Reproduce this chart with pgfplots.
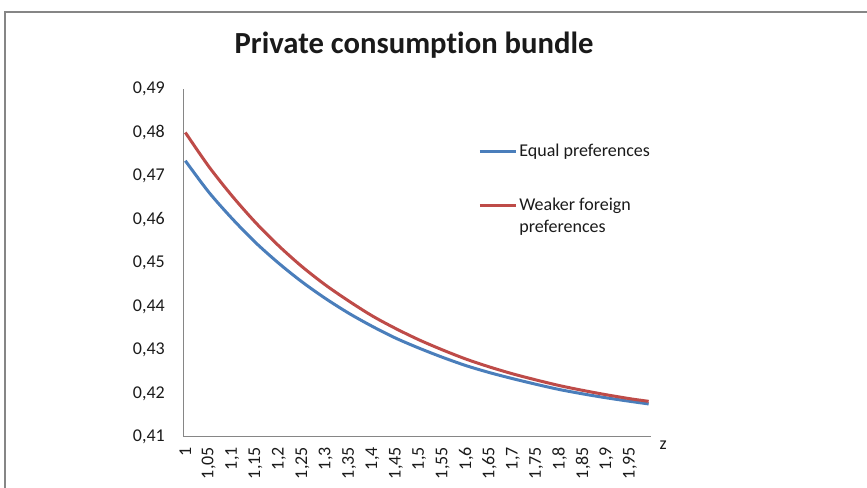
\documentclass[border=0pt]{standalone}
\usepackage{fontspec}
\setmainfont{Carlito}[Ligatures=NoCommon]
\usepackage{pgfplots}
\usepackage{pgfplotstable}
\pgfplotsset{compat=1.18}
\definecolor{xlblue}{HTML}{4A7EBB}
\definecolor{xlred}{HTML}{BE4B48}
\definecolor{xlgray}{HTML}{868686}
\definecolor{xltext}{HTML}{1A1A1A}

% z, equal preferences, weaker foreign preferences
\pgfplotstableread{
z    equal  weaker
1.00 0.4735 0.4800
1.05 0.4663 0.4722
1.10 0.4602 0.4654
1.15 0.4547 0.4593
1.20 0.4499 0.4539
1.25 0.4456 0.4491
1.30 0.4418 0.4449
1.35 0.4384 0.4412
1.40 0.4354 0.4378
1.45 0.4327 0.4349
1.50 0.4304 0.4323
1.55 0.4283 0.4300
1.60 0.4264 0.4279
1.65 0.4248 0.4261
1.70 0.4234 0.4245
1.75 0.4221 0.4231
1.80 0.4209 0.4218
1.85 0.4199 0.4207
1.90 0.4190 0.4197
1.95 0.4182 0.4188
1.99 0.4176 0.4182
}\bundle

\begin{document}
\begin{tikzpicture}[x=0.75pt,y=0.75pt]
\useasboundingbox (0,0) rectangle (867,488);
\draw[xlgray, line width=1.2pt] (5,-2) -- (5,476) -- (870,476);
\node[font=\fontsize{23}{27}\selectfont\bfseries, text=xltext] at (414,443) {Private consumption bundle};
\begin{axis}[
  at={(137.25pt,38.25pt)}, anchor=south west,
  scale only axis, width=351pt, height=261pt,
  xmin=0.995, xmax=1.995, ymin=0.41, ymax=0.49,
  axis x line=bottom, axis y line=left,
  axis line style={xlgray, line width=0.75pt, -},
  major tick length=0pt,
  font=\fontsize{13.5}{16.5}\selectfont,
  xtick={1,1.05,1.1,1.15,1.2,1.25,1.3,1.35,1.4,1.45,1.5,1.55,1.6,1.65,1.7,1.75,1.8,1.85,1.9,1.95},
  xticklabels={1,{1,05},{1,1},{1,15},{1,2},{1,25},{1,3},{1,35},{1,4},{1,45},{1,5},{1,55},{1,6},{1,65},{1,7},{1,75},{1,8},{1,85},{1,9},{1,95}},
  xticklabel style={yshift=-7.5pt, rotate=90, anchor=east, inner sep=0pt, text=xltext},
  ytick={0.41,0.42,0.43,0.44,0.45,0.46,0.47,0.48,0.49},
  yticklabels={{0,41},{0,42},{0,43},{0,44},{0,45},{0,46},{0,47},{0,48},{0,49}},
  yticklabel style={anchor=east, inner sep=0pt, xshift=-13.5pt, text=xltext},
  legend cell align=left,
  legend style={at={(0.622,0.85)}, anchor=north west, draw=none, fill=none,
    font=\fontsize{13.5}{16.5}\selectfont, text=xltext, row sep=29.5pt,
    nodes={inner sep=0pt}},
  legend image code/.code={\draw[#1] (0pt,0pt) -- (27pt,0pt);},
  clip=false,
]
\addplot[xlblue, line width=2.25pt, smooth] table[x=z, y=equal] {\bundle};
\addlegendentry{\hspace{1.5pt}Equal preferences}
\addplot[xlred, line width=2.25pt, smooth] table[x=z, y=weaker] {\bundle};
\addlegendentry{\hspace{1.5pt}\makebox[0pt][l]{\raisebox{-16.5pt}[0pt][0pt]{preferences}}Weaker foreign}
\node[anchor=west, font=\fontsize{13.5}{16.5}\selectfont, text=xltext] at (rel axis cs:1,0) [xshift=3pt, yshift=-6pt] {z};
\end{axis}
\end{tikzpicture}
\end{document}
